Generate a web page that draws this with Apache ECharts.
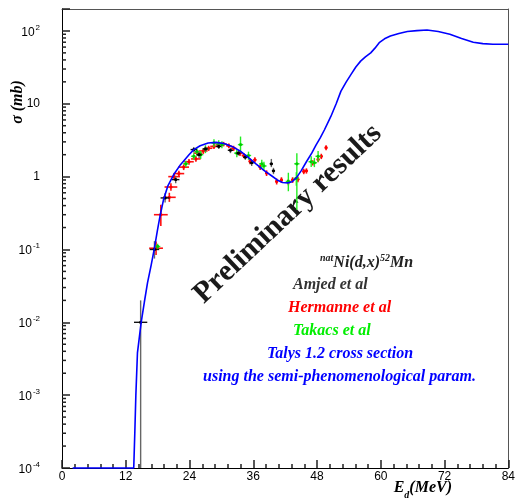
<!DOCTYPE html>
<html>
<head>
<meta charset="utf-8">
<script src="https://cdn.jsdelivr.net/npm/echarts@6/dist/echarts.min.js"></script>
<style>
  html, body { margin: 0; padding: 0; background: #fff; }
  #chart { width: 518px; height: 504px; }
</style>
</head>
<body>
<div id="chart"></div>
<script>
// Talys 1.2 cross section (MeV, mb)
var talysE = [2, 13.5, 13.7, 13.9, 14.2, 14.9, 15.5, 16.1, 16.8, 17.35, 18.0, 18.5, 19.1, 19.9, 21.0, 22.3, 23.9, 24.8, 26.0, 27.5, 29.0, 30.5, 32.0, 33.5, 35.0, 36.5, 38.0, 39.5, 40.5, 41.5, 42.5, 43.3, 44.1, 45.0, 46.0, 47.0, 47.8, 48.6, 49.4, 50.6, 51.6, 52.5, 53.5, 54.4, 55.3, 56.2, 57.1, 58.1, 58.9, 59.7, 60.7, 61.8, 63.4, 65.0, 66.8, 68.7, 70.8, 73.0, 75.2, 77.4, 79.2, 81.1, 84]
var talysXs = [1e-4, 1e-4, 3e-4, 1e-3, 0.0038, 0.01, 0.019, 0.035, 0.062, 0.1, 0.19, 0.30, 0.48, 0.74, 1.06, 1.46, 2.0, 2.35, 2.65, 2.9, 2.95, 2.85, 2.6, 2.25, 1.85, 1.5, 1.22, 1.02, 0.9, 0.83, 0.82, 0.85, 0.96, 1.2, 1.6, 2.1, 2.7, 3.4, 4.4, 6.7, 10, 14.9, 20, 25.3, 32, 38.5, 44, 50, 58, 69, 78, 85, 92, 98, 101, 103, 98, 90, 79, 70, 67, 65.5, 65.5]

// experimental points: [E, sigma, dE, dSigmaLow, dSigmaHigh]
var amjed = [
  [14.8, 0.01, 1.25, 0.01, 0.01],
  [17.4, 0.10, 0.9, 0.025, 0.03],
  [19.4, 0.51, 0.85, 0.07, 0.08],
  [21.4, 0.91, 0.7, 0.1, 0.1],
  [24.8, 2.35, 0.6, 0.2, 0.2],
  [25.8, 2.0, 0.5, 0.2, 0.2],
  [27.0, 2.4, 0.5, 0.2, 0.2],
  [29.5, 2.6, 0.5, 0.2, 0.2],
  [31.7, 2.3, 0.5, 0.2, 0.2],
  [33.2, 2.1, 0.4, 0.15, 0.15],
  [34.5, 1.85, 0.4, 0.15, 0.15],
  [35.7, 1.55, 0.4, 0.15, 0.15],
  [39.4, 1.5, 0.3, 0.15, 0.25],
  [39.8, 1.2, 0.3, 0.12, 0.12]
]
var hermanne = [
  [17.7, 0.104, 1.3, 0.02, 0.025],
  [18.6, 0.30, 1.3, 0.09, 0.11],
  [20.2, 0.52, 1.2, 0.07, 0.08],
  [20.5, 0.72, 1.2, 0.08, 0.09],
  [21.1, 1.0, 1.1, 0.1, 0.1],
  [22.0, 1.1, 1.0, 0.1, 0.1],
  [22.9, 1.35, 1.0, 0.12, 0.12],
  [23.9, 1.6, 0.9, 0.14, 0.14],
  [25.2, 1.75, 0.9, 0.15, 0.15],
  [25.6, 2.1, 0.8, 0.18, 0.18],
  [26.6, 2.25, 0.8, 0.2, 0.2],
  [27.6, 2.45, 0.7, 0.2, 0.2],
  [28.6, 2.6, 0.7, 0.2, 0.2],
  [29.5, 2.75, 0.6, 0.2, 0.2],
  [30.4, 2.8, 0.6, 0.2, 0.2],
  [31.4, 2.65, 0.5, 0.2, 0.2],
  [32.3, 2.45, 0.5, 0.2, 0.2],
  [33.5, 2.1, 0.4, 0.18, 0.18],
  [34.2, 1.95, 0.4, 0.16, 0.16],
  [35.4, 1.62, 0.3, 0.14, 0.14],
  [36.3, 1.7, 0.3, 0.14, 0.14],
  [37.3, 1.35, 0.3, 0.12, 0.12],
  [38.5, 1.12, 0.3, 0.1, 0.1],
  [40.4, 0.86, 0.25, 0.08, 0.08],
  [41.3, 0.9, 0.25, 0.08, 0.08],
  [42.6, 0.84, 0.25, 0.08, 0.08],
  [43.4, 0.9, 0.25, 0.08, 0.08],
  [44.4, 0.92, 0.25, 0.08, 0.08],
  [45.5, 1.18, 0.25, 0.1, 0.1],
  [46.0, 1.2, 0.25, 0.1, 0.1],
  [47.2, 1.55, 0.25, 0.13, 0.13],
  [48.2, 1.72, 0.25, 0.14, 0.14],
  [48.8, 1.9, 0.25, 0.16, 0.16],
  [49.7, 2.5, 0.25, 0.2, 0.2]
]
var takacs = [
  [18.0, 0.11, 0.5, 0.01, 0.01],
  [23.3, 1.5, 0.5, 0.15, 0.15],
  [24.8, 1.9, 0.5, 0.2, 0.2],
  [25.4, 2.2, 0.5, 0.25, 0.25],
  [26.1, 2.0, 0.5, 0.25, 0.25],
  [27.0, 2.4, 0.5, 0.3, 0.3],
  [28.6, 2.9, 0.5, 0.35, 0.35],
  [29.5, 2.8, 0.5, 0.35, 0.35],
  [30.1, 2.75, 0.5, 0.3, 0.3],
  [32.9, 2.1, 0.5, 0.25, 0.25],
  [33.6, 2.75, 0.5, 0.6, 0.8],
  [35.1, 1.95, 0.5, 0.25, 0.25],
  [37.6, 1.5, 0.5, 0.2, 0.2],
  [38.0, 1.4, 0.5, 0.2, 0.2],
  [42.6, 0.86, 0.5, 0.23, 0.27],
  [44.2, 1.5, 0.5, 1.15, 0.6],
  [44.1, 0.95, 0.5, 0.2, 0.2],
  [46.9, 1.6, 0.5, 0.25, 0.3],
  [47.5, 1.55, 0.5, 0.2, 0.25],
  [48.2, 1.9, 0.5, 0.3, 0.35]
]

// log axis minor ticks (2..9 per decade)
var decades = [1e-4, 1e-3, 1e-2, 0.1, 1, 10, 100]
var minorSteps = [2, 3, 4, 5, 6, 7, 8, 9]

var yMin = 1e-4
var yMax = 200
var serif = '"Liberation Serif", "DejaVu Serif", serif'
var sans = '"Liberation Sans", Arial, sans-serif'
var tickColor = '#222'

var minorTicks = []
decades.forEach(function (d) {
  minorSteps.forEach(function (m) {
    if (d * m < yMax) minorTicks.push([0, d * m])
  })
})

// cross with error bars + small dot
function errorItem (hColor, vColor, dotColor, width) {
  return function (params, api) {
    var x = api.value(0)
    var y = api.value(1)
    var ex = api.value(2)
    var lo = Math.max(y - api.value(3), yMin)
    var hi = y + api.value(4)
    var c = api.coord([x, y])
    var l = api.coord([x - ex, y])
    var r = api.coord([x + ex, y])
    var b = api.coord([x, lo])
    var t = api.coord([x, hi])
    return {
      type: 'group',
      children: [
        { type: 'line', shape: { x1: b[0], y1: b[1], x2: t[0], y2: t[1] }, style: { stroke: vColor, lineWidth: width } },
        { type: 'line', shape: { x1: l[0], y1: l[1], x2: r[0], y2: r[1] }, style: { stroke: hColor, lineWidth: width } },
        { type: 'circle', shape: { cx: c[0], cy: c[1], r: 1.6 }, style: { fill: dotColor } }
      ]
    }
  }
}

var frameLine = { show: true, onZero: false, lineStyle: { color: '#555', width: 1 } }

var myChart = echarts.init(document.getElementById('chart'))
var option = {
  animation: false,
  grid: { left: 62, right: 6, top: 9, bottom: 36 },
  xAxis: [
    {
      type: 'value',
      min: 0,
      max: 84,
      interval: 12,
      axisLine: { show: true, onZero: false, lineStyle: { color: '#000', width: 1 } },
      axisTick: { show: true, inside: true, length: 8, lineStyle: { color: tickColor, width: 1.5 } },
      minorTick: { show: true, splitNumber: 5, length: 4, lineStyle: { color: tickColor, width: 1.5 } },
      splitLine: { show: false },
      axisLabel: { color: '#000', fontSize: 12, fontFamily: sans, margin: 3 }
    },
    {
      type: 'value', position: 'top', min: 0, max: 84,
      axisLine: frameLine, axisTick: { show: false }, axisLabel: { show: false }, splitLine: { show: false }
    }
  ],
  yAxis: [
    {
      type: 'log',
      logBase: 10,
      min: yMin,
      max: yMax,
      axisLine: { show: true, onZero: false, lineStyle: { color: '#000', width: 1 } },
      axisTick: { show: true, inside: true, length: 8, lineStyle: { color: tickColor, width: 1.5 } },
      splitLine: { show: false },
      axisLabel: {
        color: '#000',
        margin: 22,
        formatter: function (v) {
          var p = Math.round(Math.log10(v))
          if (Math.abs(Math.log10(v) - p) > 1e-6) return ''
          if (p === 0) return '{b|1}'
          if (p === 1) return '{b|10}'
          return '{b|10}{s|' + p + '}'
        },
        rich: {
          b: { fontSize: 12, fontFamily: sans, color: '#000', verticalAlign: 'bottom' },
          s: { fontSize: 8, fontFamily: sans, color: '#000', verticalAlign: 'bottom', padding: [0, 0, 7, 1] }
        }
      }
    },
    {
      type: 'log', position: 'right', min: yMin, max: yMax,
      axisLine: frameLine, axisTick: { show: false }, axisLabel: { show: false }, splitLine: { show: false }
    }
  ],
  series: [
    {
      type: 'custom',
      data: minorTicks,
      silent: true,
      z: 10,
      renderItem: function (params, api) {
        var p = api.coord([api.value(0), api.value(1)])
        return { type: 'line', shape: { x1: p[0], y1: p[1], x2: p[0] + 4, y2: p[1] }, style: { stroke: tickColor, lineWidth: 1.5 } }
      }
    },
    {
      name: 'Hermanne et al',
      type: 'custom',
      data: hermanne,
      renderItem: errorItem('#ff1010', '#ff1010', '#ff0000', 1.6)
    },
    {
      name: 'Takacs et al',
      type: 'custom',
      data: takacs,
      renderItem: errorItem('#22ee22', '#22ee22', '#00cc00', 1.4)
    },
    {
      name: 'Amjed et al',
      type: 'custom',
      data: amjed,
      renderItem: errorItem('#111', '#666', '#000', 1.4)
    },
    {
      name: 'Talys 1.2',
      type: 'line',
      data: talysE.map(function (e, i) { return [e, talysXs[i]] }),
      showSymbol: false,
      smooth: false,
      clip: false,
      z: 5,
      lineStyle: { color: '#0000ff', width: 1.6 }
    }
  ],
  graphic: [
    {
      type: 'text', x: 18, y: 102, rotation: Math.PI / 2,
      style: { text: 'σ (mb)', font: 'italic bold 16px ' + serif, fill: '#000', align: 'center', verticalAlign: 'middle' }
    },
    {
      type: 'text', x: 452, y: 500,
      style: {
        text: '{b|E}{d|d}{b|(MeV)}', fill: '#000', align: 'right', verticalAlign: 'bottom',
        rich: {
          b: { font: 'italic bold 16px ' + serif, fill: '#000', verticalAlign: 'bottom', padding: [0, 0, 4, 0] },
          d: { font: 'italic bold 10px ' + serif, fill: '#000', verticalAlign: 'bottom' }
        }
      }
    },
    {
      type: 'text', x: 288, y: 214, rotation: 0.757,
      style: { text: 'Preliminary results', font: 'bold 30px ' + serif, fill: '#1a1a1a', align: 'center', verticalAlign: 'middle' }
    },
    {
      type: 'text', x: 320, y: 262,
      style: {
        text: '{s|nat}{b|Ni(d,x)}{s|52}{b|Mn}', align: 'left', verticalAlign: 'middle',
        rich: {
          b: { font: 'italic bold 16px ' + serif, fill: '#222', verticalAlign: 'bottom' },
          s: { font: 'italic bold 10px ' + serif, fill: '#222', verticalAlign: 'bottom', padding: [0, 0, 8, 0] }
        }
      }
    },
    {
      type: 'text', x: 293, y: 285,
      style: { text: 'Amjed et al', font: 'italic bold 16px ' + serif, fill: '#333', align: 'left', verticalAlign: 'middle' }
    },
    {
      type: 'text', x: 288, y: 308,
      style: { text: 'Hermanne et al', font: 'italic bold 16px ' + serif, fill: '#ff0000', align: 'left', verticalAlign: 'middle' }
    },
    {
      type: 'text', x: 293, y: 331,
      style: { text: 'Takacs et al', font: 'italic bold 16px ' + serif, fill: '#00ee00', align: 'left', verticalAlign: 'middle' }
    },
    {
      type: 'text', x: 267, y: 354,
      style: { text: 'Talys 1.2 cross section', font: 'italic bold 16px ' + serif, fill: '#0000ff', align: 'left', verticalAlign: 'middle' }
    },
    {
      type: 'text', x: 203, y: 377,
      style: { text: 'using the semi-phenomenological param.', font: 'italic bold 16px ' + serif, fill: '#0000ff', align: 'left', verticalAlign: 'middle' }
    }
  ]
}
myChart.setOption(option, true)
</script>
</body>
</html>
